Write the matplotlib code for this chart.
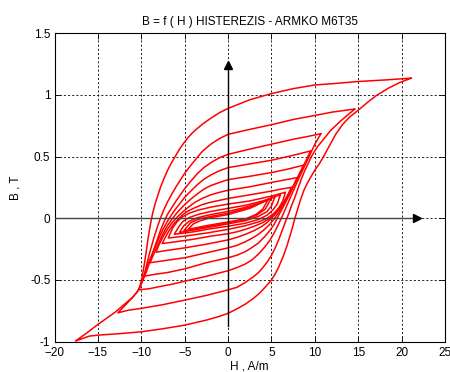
import matplotlib
matplotlib.use("Agg")
import matplotlib.pyplot as plt

plt.rcParams["font.family"] = ["Liberation Sans", "DejaVu Sans"]

# measured B(H) loops, each stored as closed path:
# +tip -> descending branch -> -tip -> ascending branch -> +tip
L1_H = [21.1, 18, 15, 12, 10, 7.5, 5, 2.5, 0, -1, -2, -3, -4, -4.6, -5.1, -5.6, -6.1, -6.6,
        -7, -7.4, -7.8, -8.1, -8.4, -8.7, -8.9, -9.1, -9.3, -9.5, -9.7, -9.9, -10.15, -10.5,
        -11, -12, -13, -14, -15, -16.3, -17.6,
        -16, -15, -12.5, -10, -7.5, -5, -2.5, -1, 0, 1, 2, 2.9, 3.5, 4, 4.5, 5, 5.4, 5.8,
        6.1, 6.4, 6.8, 7.1, 7.4, 7.7, 8.0, 8.35, 8.7, 9.1, 9.5, 10.0, 10.5, 11.0, 11.7,
        12.4, 13.2, 14, 15, 16, 17.1, 18.5, 19.8, 21.1]
L1_B = [1.135, 1.12, 1.108, 1.09, 1.08, 1.05, 1.01, 0.96, 0.89, 0.855, 0.81, 0.76, 0.7,
        0.655, 0.61, 0.56, 0.5, 0.44, 0.385, 0.32, 0.25, 0.185, 0.12, 0.04, -0.03, -0.11,
        -0.2, -0.3, -0.39, -0.47, -0.55, -0.6, -0.64, -0.7, -0.76, -0.81, -0.86, -0.93,
        -0.995,
        -0.955, -0.947, -0.935, -0.92, -0.895, -0.866, -0.825, -0.795, -0.77, -0.735,
        -0.695, -0.65, -0.615, -0.58, -0.54, -0.5, -0.455, -0.4, -0.35, -0.3, -0.22, -0.15,
        -0.08, 0.0, 0.07, 0.15, 0.22, 0.28, 0.33, 0.39, 0.44, 0.5, 0.59, 0.68, 0.76, 0.82,
        0.875, 0.935, 0.995, 1.055, 1.1, 1.135]

L2_H = [14.6, 12, 10, 7.5, 5, 2.5, 0, -1, -2, -3, -3.7, -4.4, -5, -5.5, -6, -6.5, -7, -7.4,
        -7.8, -8.2, -8.6, -9, -9.3, -9.6, -9.9, -10.3, -11, -11.8, -12.7,
        -11.5, -10, -7.5, -5, -2.5, 0, 1, 2, 2.9, 3.5, 4, 4.5, 5, 5.4, 5.8, 6.2, 6.6, 7.0,
        7.3, 7.7, 8.0, 8.4, 8.8, 9.2, 9.6, 10.3, 11, 11.8, 13, 14.6]
L2_B = [0.885, 0.86, 0.833, 0.8, 0.758, 0.72, 0.68, 0.645, 0.6, 0.54, 0.48, 0.42, 0.365,
        0.31, 0.255, 0.195, 0.13, 0.07, 0.0, -0.08, -0.17, -0.27, -0.35, -0.44, -0.51,
        -0.58, -0.64, -0.7, -0.766,
        -0.745, -0.73, -0.7, -0.663, -0.625, -0.58, -0.56, -0.52, -0.475, -0.44, -0.4,
        -0.355, -0.3, -0.245, -0.18, -0.105, -0.03, 0.04, 0.1, 0.17, 0.23, 0.31, 0.38,
        0.44, 0.5, 0.58, 0.64, 0.71, 0.79, 0.885]

L3_H = [10.7, 9, 7.5, 5, 2.5, 0, -1, -2, -2.8, -3.5, -4.3, -5, -5.5, -6, -6.5, -7, -7.4,
        -7.8, -8.2, -8.6, -9, -9.4, -9.8, -10.3,
        -9, -8, -6.5, -5, -2.5, 0, 1, 2, 2.8, 3.5, 4.2, 4.8, 5.3, 5.8, 6.2, 6.6, 7.0, 7.5,
        8.0, 8.4, 8.8, 9.2, 9.6, 10, 10.7]
L3_B = [0.685, 0.66, 0.64, 0.6, 0.56, 0.518, 0.49, 0.45, 0.41, 0.365, 0.3, 0.24, 0.19,
        0.14, 0.085, 0.03, -0.03, -0.1, -0.18, -0.26, -0.35, -0.43, -0.5, -0.58,
        -0.57, -0.555, -0.535, -0.51, -0.47, -0.425, -0.4, -0.37, -0.335, -0.29, -0.235,
        -0.18, -0.12, -0.05, 0.01, 0.075, 0.14, 0.22, 0.3, 0.36, 0.42, 0.48, 0.54, 0.6,
        0.685]

L4_H = [9.5, 7.5, 5, 2.5, 0, -1, -2, -2.8, -3.5, -4.3, -5, -5.5, -6, -6.5, -7, -7.5, -8,
        -8.5, -9, -9.4, -9.7,
        -8.5, -7, -5, -2.5, 0, 1, 2, 2.8, 3.5, 4.2, 4.8, 5.3, 5.8, 6.3, 6.7, 7.2, 7.6, 8.0,
        8.5, 9.0, 9.5]
L4_B = [0.545, 0.51, 0.47, 0.44, 0.41, 0.385, 0.35, 0.315, 0.275, 0.22, 0.17, 0.125, 0.08,
        0.03, -0.025, -0.09, -0.165, -0.25, -0.33, -0.4, -0.47,
        -0.455, -0.44, -0.41, -0.36, -0.32, -0.3, -0.27, -0.235, -0.2, -0.15, -0.1, -0.05,
        0.02, 0.085, 0.14, 0.21, 0.27, 0.33, 0.4, 0.47, 0.545]

L5_H = [8.7, 7, 5, 2.5, 0, -1, -2, -2.8, -3.5, -4.3, -5, -5.5, -6, -6.5, -7, -7.5, -8,
        -8.5, -9.0,
        -7.5, -5, -2.5, 0, 1, 2, 2.8, 3.5, 4.2, 4.8, 5.3, 5.8, 6.3, 6.8, 7.3, 7.8, 8.3, 8.7]
L5_B = [0.43, 0.4, 0.37, 0.34, 0.313, 0.29, 0.265, 0.235, 0.2, 0.155, 0.11, 0.075, 0.035,
        -0.01, -0.06, -0.125, -0.2, -0.28, -0.36,
        -0.345, -0.32, -0.28, -0.24, -0.22, -0.19, -0.16, -0.13, -0.09, -0.05, -0.005,
        0.045, 0.1, 0.16, 0.23, 0.3, 0.37, 0.43]

L6_H = [8.0, 6.5, 5, 2.5, 0, -1, -2, -3, -3.8, -4.5, -5, -5.5, -6, -6.5, -7, -7.5, -8.0,
        -8.3,
        -7, -5, -2.5, 0, 1, 2, 3, 3.8, 4.5, 5, 5.5, 6, 6.5, 7, 7.5, 8.0]
L6_B = [0.33, 0.31, 0.29, 0.255, 0.227, 0.21, 0.19, 0.16, 0.13, 0.095, 0.065, 0.035, 0.0,
        -0.04, -0.09, -0.15, -0.22, -0.275,
        -0.26, -0.24, -0.21, -0.175, -0.155, -0.13, -0.1, -0.07, -0.035, 0.0, 0.04, 0.085,
        0.135, 0.19, 0.26, 0.33]

L7_H = [7.3, 6, 5, 2.5, 0, -2, -3, -4, -4.7, -5.3, -5.8, -6.3, -6.8, -7.2, -7.6,
        -6, -4, -2, 0, 1, 2, 3, 4, 4.7, 5.3, 5.8, 6.3, 6.8, 7.3]
L7_B = [0.25, 0.235, 0.22, 0.19, 0.16, 0.13, 0.11, 0.08, 0.055, 0.025, -0.01, -0.05, -0.1,
        -0.15, -0.205,
        -0.19, -0.17, -0.145, -0.125, -0.11, -0.09, -0.065, -0.035, -0.005, 0.03, 0.07,
        0.12, 0.18, 0.25]

L8_H = [6.6, 5, 2.5, 0, -2, -3.5, -4.5, -5.3, -5.9, -6.4, -6.9,
        -5, -2.5, 0, 2, 3.5, 4.5, 5.3, 5.9, 6.3, 6.6]
L8_B = [0.21, 0.18, 0.14, 0.115, 0.09, 0.065, 0.04, 0.01, -0.03, -0.08, -0.16,
        -0.145, -0.12, -0.09, -0.06, -0.03, 0.0, 0.04, 0.09, 0.14, 0.21]

L9_H = [6.0, 4, 2, 0, -2, -3.5, -4.5, -5.2, -5.7, -6.2,
        -4, -2, 0, 2, 3.5, 4.5, 5.2, 5.7, 6.0]
L9_B = [0.19, 0.14, 0.105, 0.08, 0.055, 0.03, 0.005, -0.025, -0.07, -0.13,
        -0.11, -0.085, -0.065, -0.04, -0.01, 0.025, 0.07, 0.12, 0.19]

L10_H = [5.4, 3.5, 1.5, 0, -2, -3.5, -4.5, -5.1, -5.6,
         -3.5, -1.5, 0, 2, 3.5, 4.5, 5.0, 5.4]
L10_B = [0.175, 0.12, 0.08, 0.055, 0.03, 0.005, -0.025, -0.06, -0.115,
         -0.09, -0.065, -0.045, -0.02, 0.015, 0.055, 0.1, 0.175]

L11_H = [5.0, 3, 1, 0, -2, -3.3, -4.3, -5.1,
         -3, -1, 0, 2, 3.3, 4.3, 5.0]
L11_B = [0.165, 0.1, 0.06, 0.04, 0.015, -0.005, -0.035, -0.1,
         -0.075, -0.05, -0.035, -0.01, 0.025, 0.075, 0.165]

L12_H = [4.6, 2.5, 0, -2, -3.2, -4.0, -4.6,
         -2.5, 0, 2, 3.2, 4.0, 4.6]
L12_B = [0.15, 0.08, 0.03, 0.005, -0.02, -0.045, -0.09,
         -0.06, -0.03, -0.005, 0.03, 0.075, 0.15]

loops = [(L1_H, L1_B), (L2_H, L2_B), (L3_H, L3_B), (L4_H, L4_B), (L5_H, L5_B),
         (L6_H, L6_B), (L7_H, L7_B), (L8_H, L8_B), (L9_H, L9_B), (L10_H, L10_B),
         (L11_H, L11_B), (L12_H, L12_B)]

X_TICKS = [-20, -15, -10, -5, 0, 5, 10, 15, 20, 25]
Y_TICKS = [-1, -0.5, 0, 0.5, 1, 1.5]
Y_LABELS = ["-1", "-0.5", "0", "0.5", "1", "1.5"]

fig = plt.figure(figsize=(4.5, 3.72), dpi=100)
ax = fig.add_axes([0.1213, 0.0815, 0.8676, 0.8295])

for h, b in loops:
    ax.plot(h, b, color="#ff0000", lw=1.1, zorder=2,
            solid_joinstyle="round", solid_capstyle="round")

# coordinate arrows through the origin
ax.plot([-20, 21.8], [0, 0], color="#444444", lw=1.0, zorder=3)
ax.plot([21.8], [0], marker=">", color="k", ms=5.5, zorder=4)
ax.plot([0, 0], [-0.87, 1.24], color="k", lw=1.0, zorder=3)
ax.plot([0], [1.24], marker="^", color="k", ms=5.5, zorder=4)

ax.set_xlim(-20, 25)
ax.set_ylim(-1, 1.5)
ax.set_xticks(X_TICKS)
ax.set_yticks(Y_TICKS)
ax.set_yticklabels(Y_LABELS)
ax.grid(True, color="k", lw=0.6, linestyle=(0, (2.5, 2.5)))
ax.tick_params(direction="in", length=4, width=0.6, labelsize=8.5,
               top=True, right=True)
ax.tick_params(axis="x", pad=4)
ax.tick_params(axis="y", pad=3)
for s in ax.spines.values():
    s.set_linewidth(0.8)

ax.set_title("B = f ( H ) HISTEREZIS - ARMKO M6T35", fontsize=8.5, pad=6)
ax.set_xlabel("H , A/m", fontsize=8.5, labelpad=1)
ax.set_ylabel("B , T", fontsize=8.5, labelpad=6)

fig.savefig("out.png", dpi=100, facecolor="white")
plt.close(fig)
